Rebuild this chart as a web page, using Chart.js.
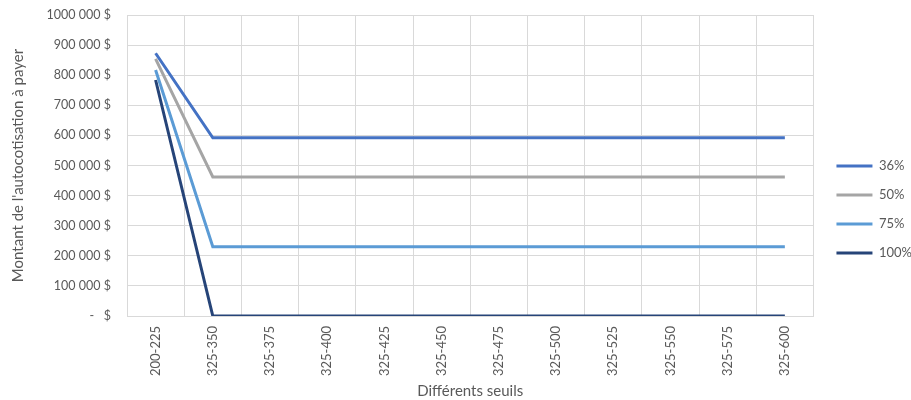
<!DOCTYPE html>
<html>
<head>
<meta charset="utf-8">
<script src="https://cdn.jsdelivr.net/npm/chart.js@4/dist/chart.umd.min.js"></script>
<style>
  html, body { margin: 0; padding: 0; background: #fff; }
  #wrap { width: 911px; height: 400px; }
</style>
</head>
<body>
<div id="wrap"><canvas id="c" width="911" height="400"></canvas></div>
<script>
// Seuils (catégories de l'axe horizontal)
const seuils = ["200-225", "325-350", "325-375", "325-400", "325-425", "325-450",
                "325-475", "325-500", "325-525", "325-550", "325-575", "325-600"];

// Montant de l'autocotisation pour chaque taux
const taux36  = [873000, 592000, 592000, 592000, 592000, 592000, 592000, 592000, 592000, 592000, 592000, 592000];
const taux50  = [854000, 462000, 462000, 462000, 462000, 462000, 462000, 462000, 462000, 462000, 462000, 462000];
const taux75  = [817000, 230000, 230000, 230000, 230000, 230000, 230000, 230000, 230000, 230000, 230000, 230000];
const taux100 = [784000, 0, 0, 0, 0, 0, 0, 0, 0, 0, 0, 0];

const seriesNames = ["36%", "50%", "75%", "100%"];
const seriesColors = ["#4472C4", "#A5A5A5", "#5B9BD5", "#264478"];

// Format comptable : "1000 000 $", "-   $" pour zéro
function formatMontant(v) {
  if (v === 0) return "-   $";
  const s = String(Math.round(v));
  return s.slice(0, s.length - 3) + " " + s.slice(-3) + " $";
}

const textColor = "#595959";
const fontFamily = "Lato, 'Open Sans', sans-serif";

const ds = [taux36, taux50, taux75, taux100].map((d, i) => ({
  label: seriesNames[i],
  data: d,
  borderColor: seriesColors[i],
  backgroundColor: seriesColors[i],
  borderWidth: 3,
  pointRadius: 0,
  pointHoverRadius: 0,
  tension: 0,
  fill: false,
  pointStyle: 'line'
}));

// Décale la légende vers la droite et vers le bas
const legendShift = {
  id: 'legendShift',
  afterUpdate(chart) {
    const lg = chart.legend;
    if (!lg || !lg.legendHitBoxes) return;
    const dx = 7, dy = 2;
    lg.left += dx; lg.right += dx; lg.top += dy; lg.bottom += dy;
    lg.legendHitBoxes.forEach(h => { h.left += dx; h.top += dy; });
  }
};

new Chart(document.getElementById('c'), {
  type: 'line',
  data: { labels: seuils, datasets: ds },
  plugins: [legendShift],
  options: {
    responsive: false,
    animation: false,
    devicePixelRatio: 1,
    layout: { padding: { left: 9, right: -4, top: 15, bottom: 0 } },
    plugins: {
      legend: {
        position: 'right',
        align: 'center',
        labels: {
          usePointStyle: true,
          pointStyle: 'line',
          pointStyleWidth: 36,
          boxWidth: 36,
          boxHeight: 3,
          color: textColor,
          padding: 16,
          font: { family: fontFamily, size: 13 }
        }
      },
      tooltip: { enabled: false }
    },
    scales: {
      x: {
        offset: true,
        grid: { offset: true, color: "#D9D9D9", drawTicks: false },
        border: { color: "#D9D9D9" },
        ticks: {
          color: textColor,
          font: { family: fontFamily, size: 13 },
          minRotation: 90,
          maxRotation: 90,
          padding: 10,
          autoSkip: false
        },
        title: {
          display: true,
          text: "Différents seuils",
          color: textColor,
          font: { family: fontFamily, size: 15 },
          padding: { top: 2, bottom: 0 }
        },
        afterFit(scale) { scale.height = 84; }
      },
      y: {
        min: 0,
        max: 1000000,
        grid: { color: "#D9D9D9", drawTicks: false },
        border: { color: "#D9D9D9" },
        ticks: {
          stepSize: 100000,
          color: textColor,
          font: { family: fontFamily, size: 12.5 },
          padding: 16,
          callback: (v) => formatMontant(v)
        },
        title: {
          display: true,
          text: "Montant de l'autocotisation à payer",
          color: textColor,
          font: { family: fontFamily, size: 15 },
          padding: { top: 0, bottom: 4 }
        },
        afterFit(scale) {
          scale.width = 118;
          scale.paddingTop = 0;
          scale.paddingBottom = 0;
        }
      }
    }
  }
});
</script>
</body>
</html>
